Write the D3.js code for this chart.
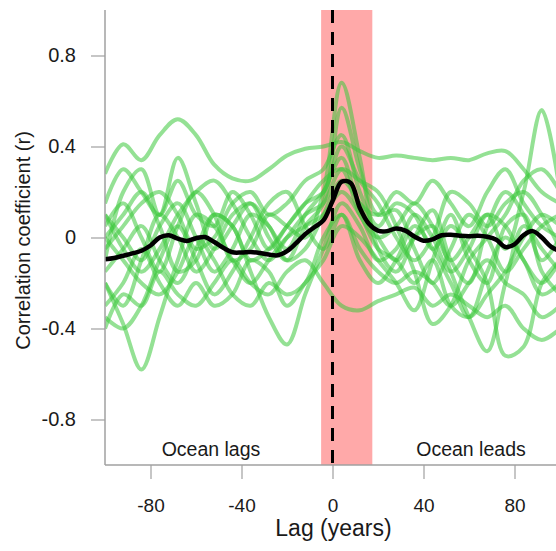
<!DOCTYPE html>
<html>
<head>
<meta charset="utf-8">
<script src="https://cdn.jsdelivr.net/npm/d3@7"></script>
<style>
  body { margin: 0; background: #fff; }
  text { font-family: "Liberation Sans", Arial, sans-serif; fill: #1a1a1a; }
</style>
</head>
<body>
<div id="chart"></div>
<script>
// lag grid shared by the individual green series (years)
const lags = [-100, -92, -84, -76, -68, -60, -52, -44, -36, -28, -20, -12, -4,
  4, 12, 20, 28, 36, 44, 52, 60, 68, 76, 84, 92, 100];

// individual correlation curves, one per record
const series = [
  [0.28, 0.41, 0.34, 0.45, 0.52, 0.45, 0.32, 0.26, 0.25, 0.30, 0.36, 0.39, 0.40, 0.42, 0.38, 0.35, 0.36, 0.35, 0.34, 0.35, 0.34, 0.37, 0.38, 0.30, 0.20, 0.15],
  [0.05, 0.15, 0.00, -0.15, 0.05, 0.20, 0.10, -0.10, -0.05, 0.10, 0.05, 0.00, 0.20, 0.68, 0.35, -0.05, -0.15, 0.00, 0.12, -0.10, -0.20, 0.05, 0.20, 0.10, -0.10, 0.00],
  [-0.20, -0.30, -0.10, 0.10, 0.00, -0.15, -0.05, 0.10, 0.15, 0.00, -0.10, 0.05, 0.15, 0.57, 0.30, 0.10, 0.12, -0.05, -0.20, -0.05, 0.10, 0.00, -0.15, -0.05, 0.05, 0.10],
  [-0.15, -0.05, 0.05, -0.10, -0.20, -0.05, 0.10, 0.05, -0.10, -0.05, 0.05, 0.15, 0.25, 0.30, 0.10, 0.00, 0.05, 0.15, 0.05, -0.10, 0.00, 0.10, -0.05, 0.20, 0.56, 0.20],
  [-0.20, -0.38, -0.58, -0.35, -0.10, 0.10, 0.05, -0.10, -0.20, -0.10, 0.00, 0.05, 0.10, 0.20, 0.10, -0.05, -0.10, -0.20, -0.10, -0.30, -0.35, -0.25, -0.15, 0.00, 0.10, 0.05],
  [0.00, 0.10, 0.20, 0.05, -0.15, -0.10, 0.10, 0.05, -0.15, -0.35, -0.47, -0.25, -0.05, 0.15, 0.05, -0.10, -0.05, 0.10, 0.00, -0.15, -0.05, 0.10, 0.05, -0.10, -0.20, -0.10],
  [-0.40, -0.25, -0.30, -0.15, -0.25, -0.30, -0.20, -0.10, -0.20, -0.25, -0.15, -0.10, -0.20, -0.30, -0.32, -0.28, -0.25, -0.22, -0.30, -0.25, -0.30, -0.35, -0.30, -0.40, -0.45, -0.40],
  [0.10, 0.00, -0.10, 0.05, 0.15, 0.00, -0.15, -0.05, 0.10, 0.05, -0.10, -0.05, 0.10, 0.25, 0.15, 0.00, -0.10, 0.00, 0.05, -0.15, -0.35, -0.50, -0.20, 0.05, -0.05, -0.15],
  [-0.05, 0.05, 0.15, 0.20, 0.10, -0.05, 0.00, 0.15, 0.20, 0.10, 0.15, 0.25, 0.30, 0.45, 0.20, 0.05, 0.15, 0.10, -0.05, 0.05, -0.05, -0.20, -0.52, -0.48, -0.20, -0.10],
  [0.10, -0.05, -0.15, -0.05, 0.10, 0.20, 0.25, 0.15, 0.00, -0.10, 0.00, 0.10, 0.15, 0.30, 0.25, 0.20, 0.05, -0.15, -0.38, -0.30, -0.10, 0.00, 0.10, 0.25, 0.30, 0.20],
  [-0.10, 0.20, 0.30, 0.10, 0.35, 0.15, -0.05, 0.05, 0.15, 0.05, -0.05, 0.10, 0.20, 0.35, 0.15, 0.10, 0.20, 0.15, 0.25, 0.15, 0.05, 0.20, 0.30, 0.15, 0.05, 0.00],
  [0.00, -0.10, -0.20, -0.25, -0.15, 0.00, -0.10, -0.25, -0.30, -0.20, -0.25, -0.20, 0.00, 0.10, -0.05, -0.15, -0.20, -0.15, -0.20, -0.30, -0.20, -0.10, -0.20, -0.25, -0.35, -0.30],
  [-0.30, -0.20, -0.05, -0.20, -0.30, -0.20, -0.30, -0.25, -0.10, -0.15, -0.30, -0.20, -0.10, 0.05, 0.00, -0.10, -0.20, -0.32, -0.10, 0.10, -0.10, -0.20, 0.05, 0.10, -0.15, -0.25],
  [0.15, 0.30, 0.20, 0.10, 0.25, 0.10, 0.05, 0.20, 0.10, -0.05, 0.05, 0.15, 0.20, 0.40, 0.25, 0.15, 0.00, -0.10, 0.00, 0.20, 0.15, 0.05, 0.15, 0.20, 0.10, -0.05],
  [-0.35, -0.40, -0.30, -0.10, 0.05, -0.10, -0.25, -0.15, 0.00, 0.15, 0.20, 0.05, -0.05, 0.10, -0.10, -0.20, -0.10, 0.05, -0.05, -0.20, -0.35, -0.15, 0.00, -0.10, -0.25, -0.20]
];

// mean curve (black), finer lag grid
const meanLags = d3.range(-100, 101, 4);
const meanValues = [-0.096, -0.09, -0.08, -0.07, -0.058, -0.035, 0.0, 0.01, -0.005, -0.015,
  -0.003, 0.002, -0.02, -0.045, -0.065, -0.066, -0.064, -0.068, -0.075, -0.078,
  -0.06, -0.025, 0.015, 0.045, 0.075, 0.16, 0.245, 0.24, 0.13, 0.06,
  0.03, 0.028, 0.04, 0.03, 0.004, -0.014, -0.008, 0.01, 0.012, 0.008,
  0.006, 0.008, 0.003, -0.01, -0.042, -0.03, 0.01, 0.028, 0.0, -0.04, -0.06];

// lag window highlighted in red
const band = [-5, 17.5];

const xTicks = [-80, -40, 0, 40, 80];
const yTicks = [0.8, 0.4, 0, -0.4, -0.8];

const width = 556, height = 551;
const mLeft = 105, mTop = 10, mBottom = 465;

const svg = d3.select("#chart")
  .append("svg")
  .attr("width", width)
  .attr("height", height);

const x = d3.scaleLinear().domain([-100, 100]).range([mLeft, 560]);
const y = d3.scaleLinear().domain([-1, 1]).range([mBottom, mTop]);

svg.append("defs").append("clipPath")
  .attr("id", "plot")
  .append("rect")
  .attr("x", mLeft)
  .attr("y", 0)
  .attr("width", width - mLeft)
  .attr("height", mBottom);

const plot = svg.append("g").attr("clip-path", "url(#plot)");

plot.append("rect")
  .attr("x", x(band[0]))
  .attr("y", mTop)
  .attr("width", x(band[1]) - x(band[0]))
  .attr("height", mBottom - mTop)
  .attr("fill", "#ffa9a9");

const line = d3.line()
  .x(d => x(d[0]))
  .y(d => y(d[1]))
  .curve(d3.curveCatmullRom.alpha(0.5));

plot.selectAll(".member")
  .data(series)
  .join("path")
  .attr("class", "member")
  .attr("d", vals => line(vals.map((v, i) => [lags[i], v])))
  .attr("fill", "none")
  .attr("stroke", "rgb(60,200,60)")
  .attr("stroke-opacity", 0.55)
  .attr("stroke-width", 4)
  .attr("stroke-linejoin", "round");

plot.append("line")
  .attr("x1", x(0)).attr("x2", x(0))
  .attr("y1", mTop).attr("y2", mBottom)
  .attr("stroke", "#000")
  .attr("stroke-width", 3)
  .attr("stroke-dasharray", "13,9");

plot.append("path")
  .attr("d", line(meanValues.map((v, i) => [meanLags[i], v])))
  .attr("fill", "none")
  .attr("stroke", "#000")
  .attr("stroke-width", 4.5)
  .attr("stroke-linejoin", "round");

// axes
const yAxis = d3.axisLeft(y).tickValues(yTicks).tickSize(14).tickSizeOuter(0)
  .tickPadding(15).tickFormat(d => d === 0 ? "0" : d.toFixed(1));
const xAxis = d3.axisBottom(x).tickValues(xTicks).tickSize(14).tickSizeOuter(0)
  .tickPadding(20).tickFormat(d => String(d));

const gy = svg.append("g").attr("transform", `translate(${mLeft},0)`).call(yAxis);
const gx = svg.append("g").attr("transform", `translate(0,${mBottom})`).call(xAxis);

gy.select(".domain").attr("stroke", "#a0a0a0").attr("stroke-width", 1.5)
  .attr("d", `M0,${mTop}V${mBottom}`);
gx.select(".domain").attr("stroke", "#a0a0a0").attr("stroke-width", 1.5)
  .attr("d", `M${mLeft},0H${width}`);
svg.selectAll(".tick line").attr("stroke", "#a0a0a0").attr("stroke-width", 1.2);
gy.selectAll(".tick text").attr("font-size", 20);
gx.selectAll(".tick text").attr("font-size", 19);
svg.selectAll(".tick text").attr("fill", "#1a1a1a")
  .attr("font-family", "'Liberation Sans', Arial, sans-serif");

svg.append("text")
  .attr("transform", `translate(30,${(mTop + mBottom) / 2 + 3}) rotate(-90)`)
  .attr("text-anchor", "middle")
  .attr("font-size", 20)
  .text("Correlation coefficient (r)");

svg.append("text")
  .attr("x", x(0) + 1)
  .attr("y", 536)
  .attr("text-anchor", "middle")
  .attr("font-size", 23)
  .text("Lag (years)");

svg.append("text")
  .attr("x", 211)
  .attr("y", 456)
  .attr("text-anchor", "middle")
  .attr("font-size", 19.5)
  .text("Ocean lags");

svg.append("text")
  .attr("x", 471)
  .attr("y", 456)
  .attr("text-anchor", "middle")
  .attr("font-size", 19.5)
  .text("Ocean leads");
</script>
</body>
</html>
